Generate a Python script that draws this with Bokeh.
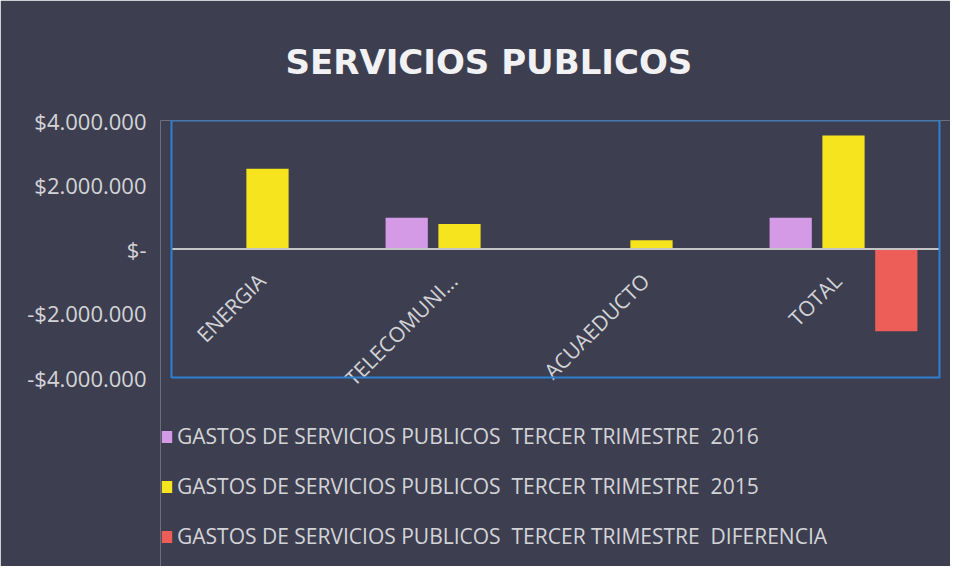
import math
from bokeh.plotting import figure
from bokeh.models import (FactorRange, FixedTicker, Legend, LegendItem,
                          ColumnDataSource, BoxAnnotation)
from bokeh.transform import dodge
from bokeh.core.properties import value
from bokeh.embed import file_html
from bokeh.resources import INLINE

# ---- data ----
categories = ["ENERGIA", "TELECOMUNI...", "ACUAEDUCTO", "TOTAL"]
gastos_2016 = [0, 970000, 0, 970000]
gastos_2015 = [2500000, 780000, 270000, 3530000]
diferencia = [0, 0, 0, -2560000]
series_names = [
    "GASTOS DE SERVICIOS PUBLICOS  TERCER TRIMESTRE  2016",
    "GASTOS DE SERVICIOS PUBLICOS  TERCER TRIMESTRE  2015",
    "GASTOS DE SERVICIOS PUBLICOS  TERCER TRIMESTRE  DIFERENCIA",
]
y_ticks = [-4000000, -2000000, 0, 2000000, 4000000]
y_tick_labels = ["-$4.000.000", "-$2.000.000", "$-", "$2.000.000", "$4.000.000"]
y_min, y_max = -4000000, 4000000

BG = "#3d3f50"
FONT = "Open Sans"
TXT = "#d4d4d8"

# layout geometry (pixels)
W, H = 950, 566
box_top, box_bottom = 120, 377          # plot-area box
frame_left, box_left, box_right = 160, 171, 939
cat_px = (box_right - box_left) / len(categories)
pad = (box_left - frame_left) / cat_px
# extend the y range below the box so the legend area lies inside the frame
y_lo = y_min - (H - box_bottom) / (box_bottom - box_top) * (y_max - y_min)

source = ColumnDataSource(dict(cat=categories, g16=gastos_2016, g15=gastos_2015,
                               dif=diferencia, zero=[0] * len(categories)))

p = figure(x_range=FactorRange(*categories, range_padding=pad,
                               range_padding_units="absolute"),
           y_range=(y_lo, y_max),
           width=W, height=H, output_backend="svg", toolbar_location=None,
           background_fill_color=BG, border_fill_color=BG,
           min_border_left=frame_left, min_border_right=0, min_border_top=box_top,
           min_border_bottom=0, title="SERVICIOS PUBLICOS")

p.title.text_font = "DejaVu Sans"
p.title.text_font_size = "34px"
p.title.text_font_style = "bold"
p.title.text_color = "#f2f2f4"
p.title.align = "left"
p.title.offset = 125
p.title.standoff = 77

p.outline_line_color = None
p.xgrid.visible = False
p.ygrid.visible = False
p.xaxis.visible = False

yax = p.yaxis[0]
yax.ticker = FixedTicker(ticks=y_ticks)
yax.major_label_overrides = {t: l for t, l in zip(y_ticks, y_tick_labels)}
yax.axis_line_color = None
yax.major_tick_line_color = None
yax.minor_tick_line_color = None
yax.major_label_text_font = FONT
yax.major_label_text_font_size = "22px"
yax.major_label_text_color = TXT
yax.major_label_standoff = 8

# plot-area border
p.add_layout(BoxAnnotation(left=0, right=len(categories), top=y_max, bottom=y_min,
                           fill_alpha=0, line_color="#2e80d2", line_width=2,
                           line_alpha=1.0))

w = 0.22
r16 = p.vbar(x=dodge("cat", -0.275, range=p.x_range), top="g16", bottom=0, width=w,
             source=source, fill_color="#d59ae6", line_color=None)
r15 = p.vbar(x=dodge("cat", 0.0, range=p.x_range), top="g15", bottom=0, width=w,
             source=source, fill_color="#f6e51e", line_color=None)
rdf = p.vbar(x=dodge("cat", 0.275, range=p.x_range), top="dif", bottom=0, width=w,
             source=source, fill_color="#ee5e58", line_color=None)

# zero line across the plot area
p.segment(x0=[0], x1=[len(categories)], y0=[0], y1=[0],
          line_color="#c4c4c4", line_width=2)

p.text(x="cat", y="zero", text="cat", source=source, angle=math.pi / 4,
       text_align="right", text_baseline="middle", x_offset=-6, y_offset=28,
       text_font=value(FONT), text_font_size="21px", text_color=TXT)

legend = Legend(items=[LegendItem(label=series_names[0], renderers=[r16]),
                       LegendItem(label=series_names[1], renderers=[r15]),
                       LegendItem(label=series_names[2], renderers=[rdf])],
                location=(0, 16), orientation="vertical",
                background_fill_alpha=0, border_line_alpha=0,
                label_text_font=FONT, label_text_font_size="21px",
                label_text_color=TXT, glyph_width=13, glyph_height=15,
                label_height=15, spacing=22, padding=0, margin=0,
                label_standoff=4)
p.add_layout(legend, "center")

open("out.html", "w").write(file_html(p, INLINE))
